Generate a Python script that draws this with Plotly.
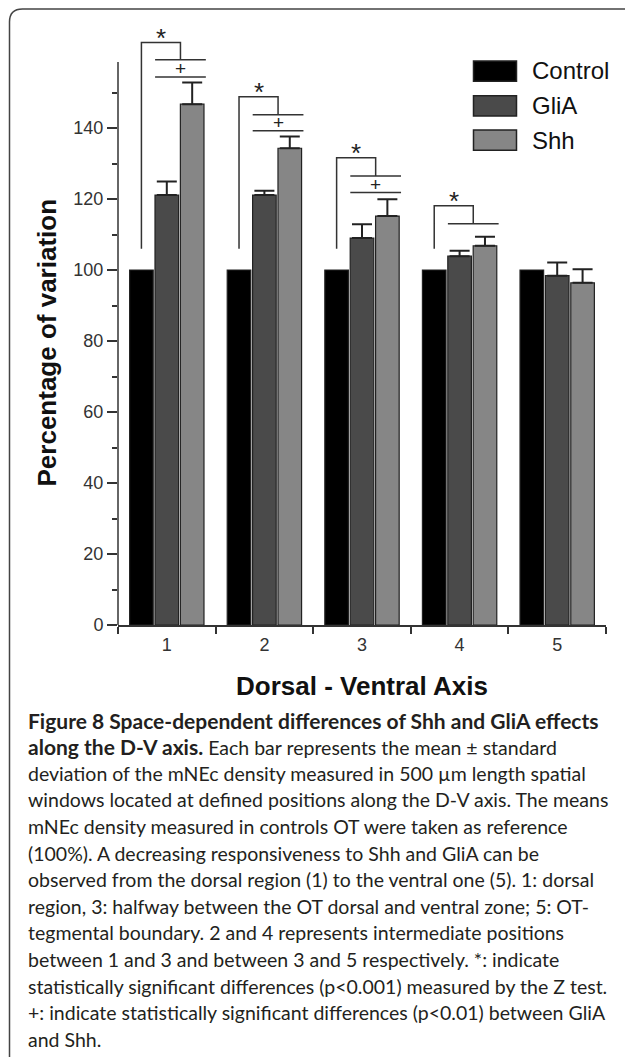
import plotly.graph_objects as go

# ---------------- data ----------------
positions = [1, 2, 3, 4, 5]
position_labels = ["1", "2", "3", "4", "5"]
series_names = ["Control", "GliA", "Shh"]
control = [100, 100, 100, 100, 100]
glia = [121.1, 121.1, 109.0, 103.9, 98.4]
glia_err = [3.8, 1.2, 3.9, 1.5, 3.7]
shh = [146.7, 134.3, 115.2, 106.8, 96.4]
shh_err = [6.1, 3.3, 4.7, 2.6, 3.8]

y_ticks = [0, 20, 40, 60, 80, 100, 120, 140]
y_minor_ticks = [10, 30, 50, 70, 90, 110, 130, 150]
y_axis_top = 158.6

# significance brackets (value units)
star_groups = [1, 2, 3, 4]
star_base = [106, 106, 106, 106]
star_top = [164.1, 148.8, 131.6, 118.1]
upper_line = [159.2, 143.7, 126.5, 113.0]
plus_groups = [1, 2, 3]
plus_line = [154.4, 139.2, 121.8]

B = '<span style="font-size:21px"><b>'
BE = '</b></span>'
caption_lines = [
    B + "Figure 8 Space-dependent differences of Shh and GliA effects" + BE,
    B + "along the D-V axis." + BE + " Each bar represents the mean ± standard",
    "deviation of the mNEc density measured in 500 µm length spatial",
    "windows located at defined positions along the D-V axis. The means",
    "mNEc density measured in controls OT were taken as reference",
    "(100%). A decreasing responsiveness to Shh and GliA can be",
    "observed from the dorsal region (1) to the ventral one (5). 1: dorsal",
    "region, 3: halfway between the OT dorsal and ventral zone; 5: OT-",
    "tegmental boundary. 2 and 4 represents intermediate positions",
    "between 1 and 3 and between 3 and 5 respectively. *: indicate",
    "statistically significant differences (p&lt;0.001) measured by the Z test.",
    "+: indicate statistically significant differences (p&lt;0.01) between GliA",
    "and Shh.",
]

colors = ["#000000", "#4a4a4a", "#868686"]
AX = "#333333"

# ---------------- layout geometry helpers ----------------
W, H = 625, 1057
ML, MR, MT, MB = 118, 19, 15, 432
PW, PH = W - ML - MR, H - MT - MB


def px(xp):
    return (xp - ML) / PW


def py(yp):
    return (H - MB - yp) / PH


fig = go.Figure()
err_sets = [None, glia_err, shh_err]
for name, vals, col, err in zip(series_names, [control, glia, shh], colors, err_sets):
    kw = {}
    if err is not None:
        kw["error_y"] = dict(type="data", array=err, arrayminus=[0] * len(err),
                             symmetric=False, color="#222222", thickness=2, width=10)
    fig.add_trace(go.Bar(x=positions, y=vals, name=name,
                         marker=dict(color=col, line=dict(color="#222222", width=1.2)),
                         hoverinfo="skip", **kw))

shapes = []
annotations = []

# y axis line (stops below the brackets)
shapes.append(dict(type="line", xref="paper", yref="y", x0=0, x1=0, y0=0, y1=y_axis_top,
                   line=dict(color=AX, width=1.5)))

# significance brackets
for g, b, t, u in zip(star_groups, star_base, star_top, upper_line):
    xl, xr = g - 0.26, g + 0.14
    shapes.append(dict(type="path", xref="x", yref="y",
                       path=f"M {xl},{b} L {xl},{t} L {xr},{t} L {xr},{u}",
                       line=dict(color=AX, width=1.5)))
    shapes.append(dict(type="line", xref="x", yref="y", x0=g - 0.12, x1=g + 0.40, y0=u, y1=u,
                       line=dict(color=AX, width=1.5)))
    annotations.append(dict(x=(xl + xr) / 2, y=t + 3, xref="x", yref="y", text="*",
                            showarrow=False, yshift=-6, xanchor="center", yanchor="middle",
                            font=dict(family="Liberation Sans", size=26, color="#222")))
for g, lo, u in zip(plus_groups, plus_line, upper_line):
    shapes.append(dict(type="line", xref="x", yref="y", x0=g - 0.12, x1=g + 0.40, y0=lo, y1=lo,
                       line=dict(color=AX, width=1.5)))
    annotations.append(dict(x=g + 0.14, y=(lo + u) / 2, xref="x", yref="y", text="+",
                            showarrow=False, xanchor="center", yanchor="middle",
                            font=dict(family="Liberation Sans", size=19, color="#222")))

# manual legend
leg_tops = [61, 95.7, 130]
for name, col, top in zip(series_names, colors, leg_tops):
    shapes.append(dict(type="rect", xref="paper", yref="paper",
                       x0=px(473.5), x1=px(516.5), y0=py(top), y1=py(top + 20.3),
                       fillcolor=col, line=dict(color="#222222", width=1.5)))
    annotations.append(dict(x=px(530), y=py(top + 10), xref="paper", yref="paper",
                            text=name, showarrow=False, xanchor="left", yanchor="middle",
                            font=dict(family="Liberation Sans", size=24, color="#111")))

# axis titles
annotations.append(dict(x=px(362), y=py(686), xref="paper", yref="paper",
                        text="<b>Dorsal - Ventral Axis</b>", showarrow=False,
                        xanchor="center", yanchor="middle",
                        font=dict(family="Liberation Sans", size=26, color="#111")))
annotations.append(dict(x=px(46), y=py(342.5), xref="paper", yref="paper",
                        text="<b>Percentage of variation</b>", showarrow=False, textangle=-90,
                        xanchor="center", yanchor="middle",
                        font=dict(family="Liberation Sans", size=26, color="#111")))

# caption
for i, line in enumerate(caption_lines):
    annotations.append(dict(x=px(26), y=py(720 + 26.6 * i), xref="paper", yref="paper",
                            text=line, showarrow=False, xanchor="left", yanchor="middle",
                            font=dict(family="Lato", size=19.5, color="#231f20")))

# rounded frame (open to the right and bottom)
x0f, y0f, r = 9.5, 9.0, 13
frame = (f"M {px(x0f)},{py(H + 5)} L {px(x0f)},{py(y0f + r)} "
         f"Q {px(x0f)},{py(y0f)} {px(x0f + r)},{py(y0f)} L {px(W + 5)},{py(y0f)}")
shapes.append(dict(type="path", xref="paper", yref="paper", path=frame,
                   line=dict(color="#444", width=1.5)))

boundaries = [p - 0.5 for p in positions] + [positions[-1] + 0.5]

fig.update_layout(
    width=W, height=H,
    margin=dict(l=ML, r=MR, t=MT, b=MB),
    barmode="group", bargap=0.22, bargroupgap=0.07,
    plot_bgcolor="white", paper_bgcolor="white",
    showlegend=False,
    shapes=shapes, annotations=annotations,
    xaxis=dict(range=[0.5, 5.5], tickvals=positions, ticktext=position_labels,
               ticks="", showline=True, linecolor=AX, linewidth=1.5,
               showgrid=False, zeroline=False, ticklabelstandoff=3,
               minor=dict(tickvals=boundaries, ticks="outside", ticklen=7,
                          tickwidth=1.5, tickcolor=AX),
               tickfont=dict(family="Liberation Sans", size=18, color="#333")),
    yaxis=dict(range=[0, PH / 3.55], tickvals=y_ticks, ticks="outside", ticklen=10,
               tickwidth=1.5, tickcolor=AX, showline=False, showgrid=False,
               zeroline=False,
               minor=dict(tickvals=y_minor_ticks, ticks="outside", ticklen=5,
                          tickwidth=1.5, tickcolor=AX),
               tickfont=dict(family="Liberation Sans", size=18, color="#333")),
)

fig.write_html("out.html")
